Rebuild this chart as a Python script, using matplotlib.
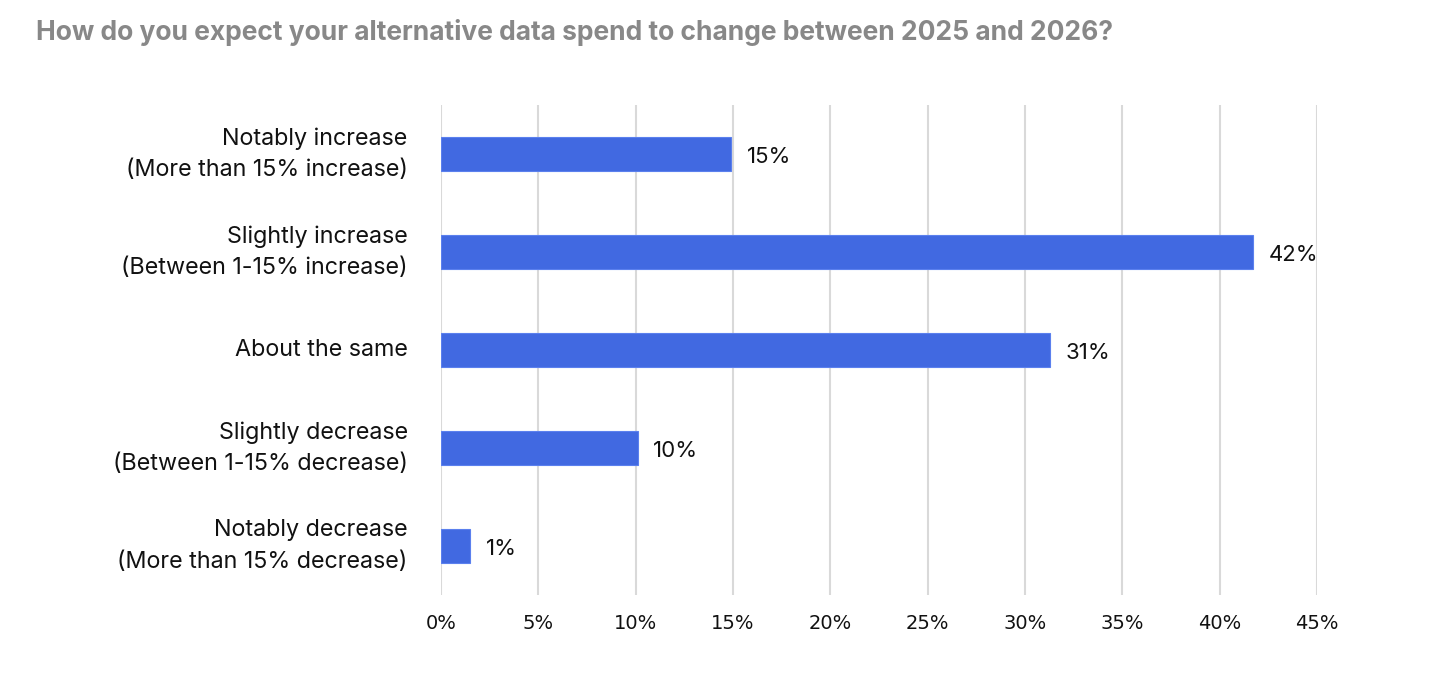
import matplotlib.pyplot as plt

categories = [
    "Notably increase\n(More than 15% increase)",
    "Slightly increase\n(Between 1-15% increase)",
    "About the same",
    "Slightly decrease\n(Between 1-15% decrease)",
    "Notably decrease\n(More than 15% decrease)",
]
values = [14.9, 41.7, 31.3, 10.1, 1.5]
value_labels = ["15%", "42%", "31%", "10%", "1%"]
xticks = [0, 5, 10, 15, 20, 25, 30, 35, 40, 45]

fig = plt.figure(figsize=(14.56, 6.87), dpi=100)
ax = fig.add_axes([0.3029, 0.1339, 0.6016, 0.7133])

ypos = list(range(len(categories)))
ax.barh(ypos, values, height=0.35, color="#4169E1", edgecolor="#5b80ee", linewidth=0.8, zorder=3)

for y, v, lab in zip(ypos, values, value_labels):
    ax.text(v + 0.8, y + 0.03, lab, va="center", ha="left", fontsize=16, family=["Inter", "DejaVu Sans"], color="#111111")

ax.set_ylim(4.5, -0.5)
ax.set_xlim(0, 45)
ax.set_yticks(ypos)
ax.set_yticklabels(categories, fontsize=16.8, family=["Inter", "DejaVu Sans"], color="#111111", linespacing=1.55)
for lab in ax.get_yticklabels():
    lab.set_va("center")
ax.set_xticks(xticks)
ax.set_xticklabels([f"{t}%" for t in xticks], fontsize=14, family=["Liberation Sans Narrow", "DejaVu Sans"], color="#111111")
ax.tick_params(axis="both", length=0)
ax.tick_params(axis="y", pad=24)
ax.tick_params(axis="x", pad=14)
ax.grid(axis="x", color="#d9d9d9", linewidth=1.5, zorder=0)
for s in ax.spines.values():
    s.set_visible(False)

fig.text(0.0247, 0.953, "How do you expect your alternative data spend to change between 2025 and 2026?",
         fontsize=19, fontweight="bold", color="#888888", family=["Inter", "DejaVu Sans"], va="center", ha="left")

fig.savefig("out.png", dpi=100, facecolor="white")
